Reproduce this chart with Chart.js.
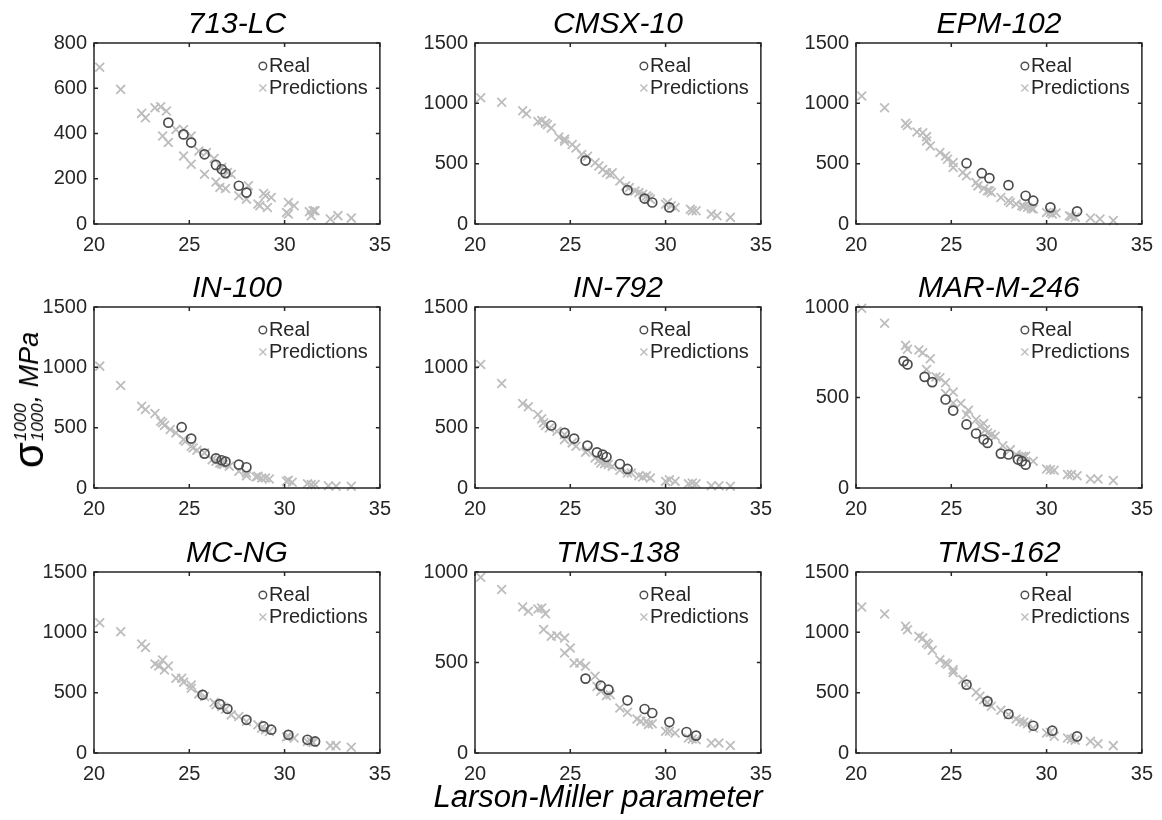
<!DOCTYPE html>
<html>
<head>
<meta charset="utf-8">
<script src="https://cdn.jsdelivr.net/npm/chart.js@4.4.0/dist/chart.umd.min.js"></script>
<style>
  body { margin: 0; background: #fff; width: 1162px; height: 820px; position: relative; overflow: hidden;
         font-family: "Liberation Sans", Arial, sans-serif; }
  .panel { position: absolute; }
  #ylab { position: absolute; left: 29px; top: 400px; width: 0; height: 0; z-index: 2; }
  #ylab .inner { position: absolute; left: 0; top: 0; white-space: nowrap; display: flex; align-items: center;
                 transform: translate(-50%, -50%) rotate(-90deg); color: #000; }
  #ylab .sig { font-size: 42px; line-height: 42px; }
  #ylab .idx { display: inline-flex; flex-direction: column; font-style: italic; font-size: 17px; line-height: 17px; margin: 0 1px; }
  #ylab .mpa { font-style: italic; font-size: 27px; }
  #xlab { position: absolute; left: 598px; top: 779px; transform: translateX(-50%); font-style: italic;
          font-size: 31px; color: #000; white-space: nowrap; z-index: 2; }
</style>
</head>
<body>
<div id="charts"></div>
<div id="ylab"><div class="inner"><span class="sig">σ</span><span class="idx"><span>1000</span><span>1000</span></span><span class="mpa">, MPa</span></div></div>
<div id="xlab">Larson-Miller parameter</div>
<script>
// ---- data ----
const titles = ['713-LC', 'CMSX-10', 'EPM-102', 'IN-100', 'IN-792', 'MAR-M-246', 'MC-NG', 'TMS-138', 'TMS-162'];
const yMaxes = [800, 1500, 1500, 1500, 1500, 1000, 1500, 1000, 1500];
const ySteps = [200, 500, 500, 500, 500, 500, 500, 500, 500];

const real713X = [23.9, 24.7, 25.1, 25.8, 26.4, 26.7, 26.9, 27.6, 28.0];
const real713Y = [448, 396, 360, 308, 261, 242, 225, 169, 139];
const pred713X = [20.3, 21.4, 22.5, 22.7, 23.2, 23.5, 23.8, 23.6, 23.9, 24.3, 24.7, 24.7, 25.1, 25.1, 25.5, 25.8, 25.9, 26.3, 26.4, 26.6, 26.7, 26.9, 27.0, 27.2, 27.6, 28.0, 28.1, 28.6, 28.7, 28.9, 29.0, 29.1, 29.3, 30.1, 30.2, 30.2, 30.5, 31.3, 31.4, 31.5, 31.6, 32.4, 32.8, 33.5];
const pred713Y = [693, 595, 489, 470, 514, 518, 499, 389, 360, 418, 418, 301, 389, 264, 323, 220, 316, 289, 186, 161, 250, 157, 228, 220, 125, 110, 169, 88, 81, 135, 125, 73, 117, 51, 95, 44, 81, 54, 37, 59, 59, 22, 37, 26];

const realCmsxX = [25.8, 28.0, 28.9, 29.3, 30.2];
const realCmsxY = [526, 280, 211, 178, 137];
const predCmsxX = [20.3, 21.4, 22.5, 22.7, 23.3, 23.5, 23.7, 23.8, 24.0, 24.4, 24.7, 24.7, 25.1, 25.3, 25.6, 25.9, 26.3, 26.5, 26.7, 26.9, 27.1, 27.2, 27.6, 27.9, 28.1, 28.4, 28.6, 28.8, 29.0, 29.1, 29.2, 30.0, 30.1, 30.3, 30.5, 31.3, 31.4, 31.6, 32.4, 32.7, 33.4];
const predCmsxY = [1047, 1009, 938, 913, 850, 858, 836, 823, 795, 721, 705, 685, 658, 630, 576, 562, 507, 480, 452, 425, 411, 425, 356, 315, 302, 274, 260, 247, 233, 219, 206, 164, 178, 151, 137, 123, 110, 110, 82, 69, 55];

const realEpmX = [25.8, 26.6, 27.0, 28.0, 28.9, 29.3, 30.2, 31.6];
const realEpmY = [504, 421, 380, 322, 234, 193, 138, 105];
const predEpmX = [20.3, 21.5, 22.6, 22.7, 23.2, 23.5, 23.7, 23.7, 23.9, 24.4, 24.7, 24.8, 25.1, 25.1, 25.6, 25.8, 26.3, 26.4, 26.7, 26.9, 27.0, 27.1, 27.6, 28.0, 28.1, 28.4, 28.7, 28.8, 29.0, 29.2, 29.3, 30.0, 30.2, 30.3, 30.5, 31.2, 31.3, 31.5, 32.3, 32.8, 33.5];
const predEpmY = [1060, 963, 834, 817, 762, 757, 724, 688, 647, 592, 564, 537, 509, 468, 427, 399, 344, 316, 294, 275, 275, 261, 220, 193, 179, 165, 151, 146, 138, 129, 124, 96, 96, 83, 91, 69, 63, 55, 50, 41, 28];

const realIn100X = [24.6, 25.1, 25.8, 26.4, 26.7, 26.9, 27.6, 28.0];
const realIn100Y = [504, 410, 285, 246, 230, 219, 194, 172];
const predIn100X = [20.3, 21.4, 22.5, 22.7, 23.2, 23.5, 23.6, 23.7, 24.0, 24.3, 24.7, 24.8, 25.1, 25.2, 25.4, 25.8, 26.2, 26.4, 26.6, 26.7, 26.8, 27.1, 27.6, 28.0, 28.0, 28.5, 28.6, 28.8, 29.0, 29.2, 30.1, 30.2, 30.4, 31.2, 31.4, 31.6, 32.3, 32.7, 33.5];
const predIn100Y = [1010, 850, 678, 650, 617, 554, 540, 518, 484, 457, 401, 388, 346, 332, 313, 291, 235, 221, 208, 202, 194, 180, 138, 125, 102, 91, 97, 83, 83, 75, 55, 64, 47, 36, 28, 28, 19, 14, 14];

const realIn792X = [24.0, 24.7, 25.2, 25.9, 26.4, 26.7, 26.9, 27.6, 28.0];
const realIn792Y = [518, 457, 410, 352, 296, 277, 257, 199, 158];
const predIn792X = [20.3, 21.4, 22.5, 22.8, 23.3, 23.5, 23.6, 23.7, 23.9, 24.3, 24.7, 24.7, 25.1, 25.3, 25.8, 25.9, 26.3, 26.5, 26.6, 26.8, 27.0, 27.2, 27.6, 28.0, 28.2, 28.6, 28.8, 29.0, 29.2, 30.0, 30.2, 30.5, 31.2, 31.4, 31.6, 32.4, 32.8, 33.4];
const predIn792Y = [1024, 866, 700, 673, 609, 573, 540, 518, 498, 471, 443, 401, 374, 346, 296, 313, 249, 230, 208, 202, 194, 180, 147, 125, 125, 102, 91, 102, 83, 55, 69, 55, 36, 42, 36, 19, 19, 14];

const realMarX = [22.5, 22.7, 23.6, 24.0, 24.7, 25.1, 25.8, 26.3, 26.7, 26.9, 27.6, 28.0, 28.5, 28.7, 28.9];
const realMarY = [701, 683, 614, 585, 489, 428, 351, 301, 268, 249, 190, 185, 157, 148, 129];
const predMarX = [20.3, 21.5, 22.6, 22.7, 23.3, 23.5, 23.9, 23.7, 24.2, 24.4, 24.7, 24.7, 25.1, 25.1, 25.5, 25.9, 25.8, 26.3, 26.5, 26.7, 26.8, 26.9, 27.1, 27.3, 27.7, 28.1, 28.4, 28.7, 28.8, 28.9, 29.3, 30.0, 30.2, 30.4, 31.1, 31.3, 31.6, 32.3, 32.7, 33.5];
const predMarY = [993, 910, 788, 766, 762, 747, 714, 655, 614, 609, 581, 522, 530, 470, 467, 430, 406, 378, 341, 356, 323, 304, 295, 286, 234, 212, 185, 175, 172, 175, 148, 105, 101, 98, 74, 74, 68, 50, 50, 42];

const realMcngX = [25.7, 26.6, 27.0, 28.0, 28.9, 29.3, 30.2, 31.2, 31.6];
const realMcngY = [482, 405, 366, 275, 220, 193, 151, 110, 96];
const predMcngX = [20.3, 21.4, 22.5, 22.7, 23.2, 23.4, 23.6, 23.7, 23.9, 24.3, 24.6, 24.7, 25.1, 25.1, 25.5, 25.8, 26.3, 26.4, 26.7, 26.9, 27.2, 27.6, 28.0, 28.6, 28.8, 29.0, 29.2, 30.1, 30.2, 30.5, 31.2, 31.4, 31.5, 32.4, 32.7, 33.5];
const predMcngY = [1079, 1004, 903, 875, 738, 721, 771, 688, 721, 619, 619, 586, 564, 537, 490, 468, 418, 399, 385, 363, 316, 303, 261, 234, 206, 193, 179, 132, 138, 124, 96, 96, 88, 61, 61, 47];

const realT138X = [25.8, 26.6, 27.0, 28.0, 28.9, 29.3, 30.2, 31.1, 31.6];
const realT138Y = [411, 372, 350, 291, 243, 221, 171, 116, 96];
const predT138X = [20.3, 21.4, 22.5, 22.8, 23.3, 23.5, 23.7, 23.6, 24.0, 24.3, 24.7, 24.7, 25.0, 25.2, 25.5, 25.8, 26.3, 26.4, 26.6, 26.9, 27.1, 27.6, 28.0, 28.5, 28.7, 29.0, 29.1, 29.3, 30.0, 30.2, 30.5, 31.2, 31.4, 31.6, 32.4, 32.8, 33.4];
const predT138Y = [971, 903, 807, 783, 796, 801, 770, 682, 645, 648, 636, 553, 580, 497, 497, 479, 424, 368, 341, 317, 322, 249, 225, 188, 175, 175, 157, 162, 120, 120, 111, 83, 77, 74, 55, 55, 41];

const realT162X = [25.8, 26.9, 28.0, 29.3, 30.3, 31.6];
const realT162Y = [566, 428, 323, 226, 185, 138];
const predT162X = [20.3, 21.5, 22.6, 22.7, 23.3, 23.5, 23.7, 23.8, 24.0, 24.4, 24.7, 24.8, 25.1, 25.1, 25.6, 25.8, 26.3, 26.5, 26.7, 26.9, 27.1, 27.6, 28.0, 28.4, 28.6, 28.8, 29.0, 29.3, 30.0, 30.2, 30.4, 31.1, 31.3, 31.5, 32.3, 32.7, 33.5];
const predT162Y = [1210, 1152, 1050, 1022, 967, 953, 911, 898, 851, 773, 746, 735, 690, 668, 608, 566, 503, 470, 442, 420, 387, 354, 318, 282, 262, 254, 243, 207, 166, 171, 138, 124, 116, 105, 97, 77, 61];

const realSets = [[real713X, real713Y], [realCmsxX, realCmsxY], [realEpmX, realEpmY], [realIn100X, realIn100Y],
  [realIn792X, realIn792Y], [realMarX, realMarY], [realMcngX, realMcngY], [realT138X, realT138Y], [realT162X, realT162Y]];
const predSets = [[pred713X, pred713Y], [predCmsxX, predCmsxY], [predEpmX, predEpmY], [predIn100X, predIn100Y],
  [predIn792X, predIn792Y], [predMarX, predMarY], [predMcngX, predMcngY], [predT138X, predT138Y], [predT162X, predT162Y]];

// ---- layout ----
const frameLeft = [94, 475, 856];
const frameTop = [43, 307, 572];
const FW = 290, FH = 181;
const PL = 70, PT = 42, PR = 16, PB = 36;

Chart.defaults.font.family = '"Liberation Sans", Arial, sans-serif';
Chart.defaults.color = '#262626';

const FRAME = '#262626';
const REAL_COL = '#4d4d4d';
const PRED_COL = '#bdbdbd';

function pts(xs, ys) { return xs.map((x, i) => ({ x: x, y: ys[i] })); }

function drawCross(ctx, x, y, h) {
  ctx.beginPath();
  ctx.moveTo(x - h, y - h); ctx.lineTo(x + h, y + h);
  ctx.moveTo(x - h, y + h); ctx.lineTo(x + h, y - h);
  ctx.stroke();
}

const boxPlugin = {
  id: 'box',
  afterDraw(chart, args, opts) {
    const { ctx, chartArea: a, scales: { x, y } } = chart;
    ctx.save();
    // frame + inner ticks
    ctx.strokeStyle = FRAME;
    ctx.lineWidth = 1.5;
    ctx.strokeRect(a.left, a.top, a.right - a.left, a.bottom - a.top);
    ctx.beginPath();
    x.ticks.forEach(t => {
      const px = x.getPixelForValue(t.value);
      ctx.moveTo(px, a.bottom); ctx.lineTo(px, a.bottom - 4);
      ctx.moveTo(px, a.top); ctx.lineTo(px, a.top + 4);
    });
    y.ticks.forEach(t => {
      const py = y.getPixelForValue(t.value);
      ctx.moveTo(a.left, py); ctx.lineTo(a.left + 4, py);
      ctx.moveTo(a.right, py); ctx.lineTo(a.right - 4, py);
    });
    ctx.stroke();

    // title
    ctx.fillStyle = '#000';
    ctx.font = 'italic 30px "Liberation Sans", Arial, sans-serif';
    ctx.textAlign = 'center';
    ctx.textBaseline = 'alphabetic';
    ctx.fillText(opts.title, (a.left + a.right) / 2, a.top - 10);

    // legend inside top-right
    const tx = a.right - 111;
    const mx = a.right - 117;
    ctx.font = '20px "Liberation Sans", Arial, sans-serif';
    ctx.textAlign = 'left';
    ctx.textBaseline = 'middle';
    ctx.fillStyle = '#262626';
    const ds = chart.data.datasets;
    const rows = [a.top + 23, a.top + 45];
    ctx.lineWidth = 1.4;
    ctx.strokeStyle = REAL_COL;
    ctx.beginPath(); ctx.arc(mx, rows[0], 3.8, 0, Math.PI * 2); ctx.stroke();
    ctx.fillText(ds[0].label, tx, rows[0]);
    ctx.strokeStyle = PRED_COL;
    drawCross(ctx, mx, rows[1], 3.5);
    ctx.fillText(ds[1].label, tx, rows[1]);
    ctx.restore();
  }
};

const plainNum = v => String(v);

const holder = document.getElementById('charts');
titles.forEach((title, i) => {
  const r = Math.floor(i / 3), c = i % 3;
  const div = document.createElement('div');
  div.className = 'panel';
  div.style.left = (frameLeft[c] - PL) + 'px';
  div.style.top = (frameTop[r] - PT) + 'px';
  div.style.width = (FW + PL + PR) + 'px';
  div.style.height = (FH + PT + PB) + 'px';
  const cv = document.createElement('canvas');
  div.appendChild(cv);
  holder.appendChild(div);

  new Chart(cv, {
    type: 'scatter',
    data: {
      datasets: [
        {
          label: 'Real',
          data: pts(realSets[i][0], realSets[i][1]),
          pointStyle: 'circle',
          pointRadius: 4.5,
          borderColor: REAL_COL,
          backgroundColor: 'rgba(0,0,0,0)',
          borderWidth: 1.7,
          clip: false
        },
        {
          label: 'Predictions',
          data: pts(predSets[i][0], predSets[i][1]),
          pointStyle: 'crossRot',
          pointRadius: 6.2,
          borderColor: PRED_COL,
          backgroundColor: PRED_COL,
          borderWidth: 1.8,
          clip: false
        }
      ]
    },
    options: {
      responsive: true,
      maintainAspectRatio: false,
      animation: false,
      events: [],
      layout: { padding: { top: PT, right: PR, left: 0, bottom: 0 } },
      plugins: {
        legend: { display: false },
        tooltip: { enabled: false },
        box: { title: title }
      },
      scales: {
        x: {
          type: 'linear', min: 20, max: 35,
          ticks: { stepSize: 5, padding: 9, maxRotation: 0, font: { size: 20 }, color: '#262626', callback: plainNum },
          grid: { display: false, drawTicks: false },
          border: { display: false },
          afterFit: s => { s.height = PB; }
        },
        y: {
          type: 'linear', min: 0, max: yMaxes[i],
          ticks: { stepSize: ySteps[i], padding: 7, font: { size: 20 }, color: '#262626', callback: plainNum },
          grid: { display: false, drawTicks: false },
          border: { display: false },
          afterFit: s => { s.width = PL; }
        }
      }
    },
    plugins: [boxPlugin]
  });
});
</script>
</body>
</html>
